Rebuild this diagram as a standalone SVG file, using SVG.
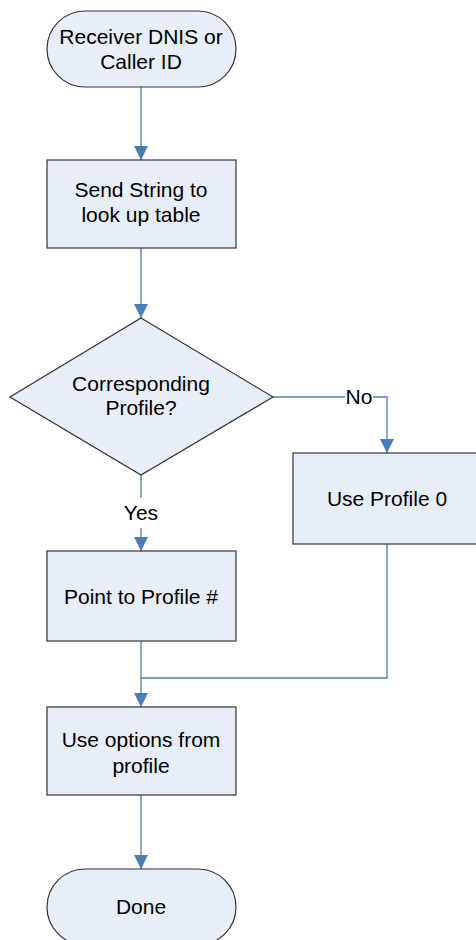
<svg xmlns="http://www.w3.org/2000/svg" width="476" height="940" viewBox="0 0 476 940">
<defs>
<style>
.n{fill:#E8EEF7;stroke:#333;stroke-width:1.2}
.t{font-family:"Liberation Sans",Arial,sans-serif;font-size:21px;fill:#000;text-anchor:middle}
.c{fill:none;stroke:#4A7EBB;stroke-width:1.3}
</style>
<marker id="a" viewBox="0 0 10 10" refX="10" refY="5" markerWidth="14" markerHeight="14" markerUnits="userSpaceOnUse" orient="auto"><path d="M0,0L10,5L0,10z" fill="#4A7EBB"/></marker>
</defs>
<rect width="476" height="940" fill="#fff"/>
<g id="connectors">
<path class="c" d="M141,87V160" marker-end="url(#a)"/>
<path class="c" d="M141,248V318" marker-end="url(#a)"/>
<path class="c" d="M273,397H345M373,397H387V453" marker-end="url(#a)"/>
<path class="c" d="M141,475V498M141,528V551" marker-end="url(#a)"/>
<path class="c" d="M141,641V707" marker-end="url(#a)"/>
<path class="c" d="M387,544V678H141"/>
<path class="c" d="M141,795V869" marker-end="url(#a)"/>
<text class="t" x="359" y="404">No</text>
<text class="t" x="141" y="520">Yes</text>
</g>
<g id="start"><rect class="n" x="47" y="11" width="189" height="76" rx="38"/><text class="t" x="141" y="44">Receiver DNIS or</text><text class="t" x="141" y="69">Caller ID</text></g>
<g id="send"><rect class="n" x="47" y="160" width="189" height="88"/><text class="t" x="141" y="197">Send String to</text><text class="t" x="141" y="222">look up table</text></g>
<g id="decision"><path class="n" d="M141,318L273,397L141,475L10,397z"/><text class="t" x="141" y="391">Corresponding</text><text class="t" x="141" y="415">Profile?</text></g>
<g id="profile0"><rect class="n" x="293" y="453" width="188" height="91"/><text class="t" x="387" y="506">Use Profile 0</text></g>
<g id="point"><rect class="n" x="47" y="551" width="189" height="90"/><text class="t" x="141" y="604">Point to Profile #</text></g>
<g id="options"><rect class="n" x="47" y="707" width="189" height="88"/><text class="t" x="141" y="747">Use options from</text><text class="t" x="141" y="773">profile</text></g>
<g id="done"><rect class="n" x="47" y="869" width="189" height="76" rx="38"/><text class="t" x="141" y="914">Done</text></g>
</svg>
